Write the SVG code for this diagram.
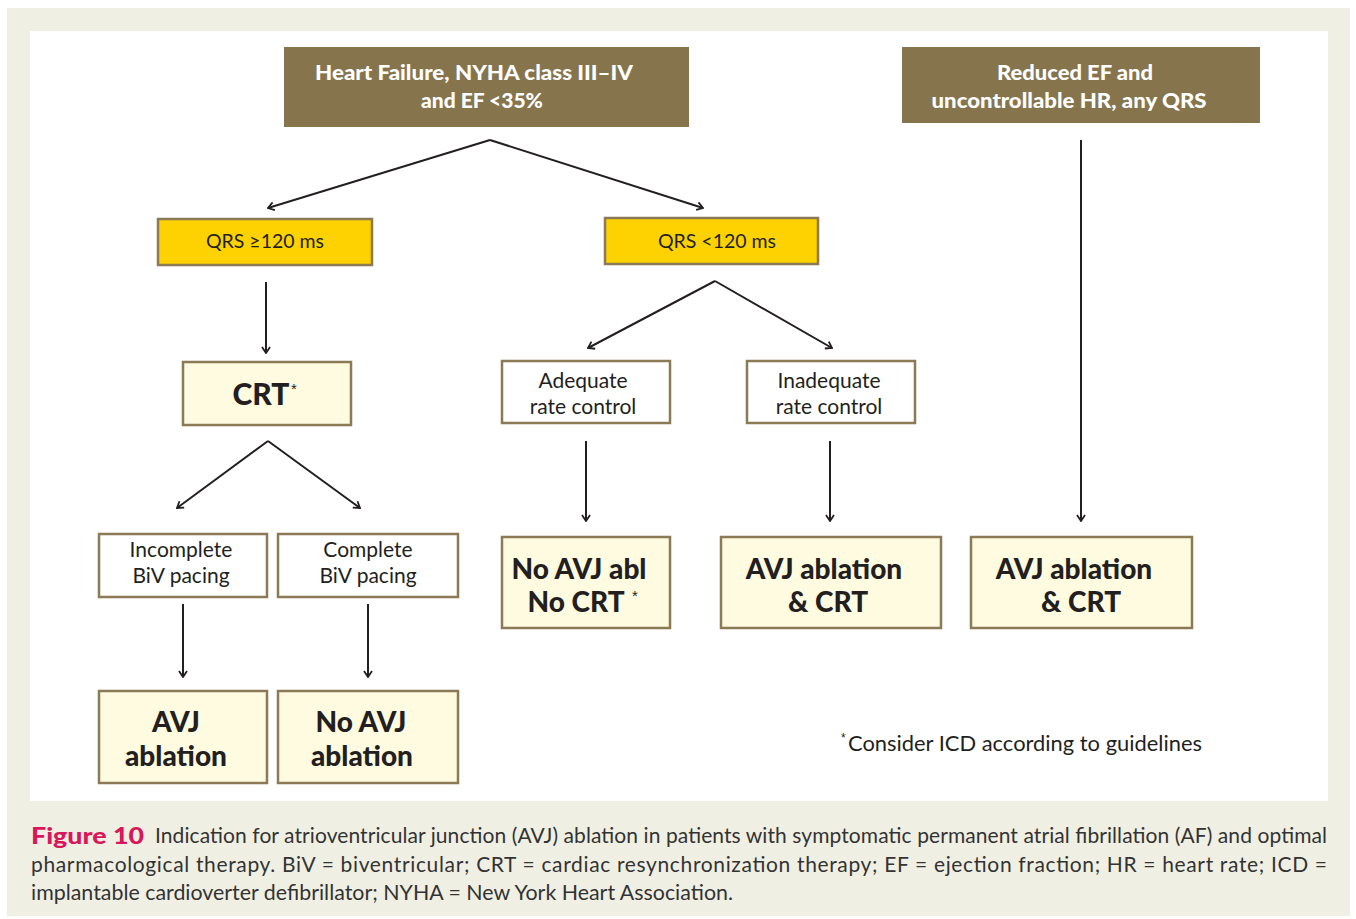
<svg xmlns="http://www.w3.org/2000/svg" width="1356" height="919" viewBox="0 0 1356 919">
<defs>
<style>
.t{font-family:Lato,"Liberation Sans",sans-serif;fill:#231f20;text-anchor:middle}
.hdr{fill:#86744d}
.ht{font-family:Lato,"Liberation Sans",sans-serif;fill:#ffffff;font-weight:900;font-size:21px;text-anchor:middle}
.gold{fill:#fdd200;stroke:#8b7a55;stroke-width:2.5}
.cream{fill:#fefbe0;stroke:#8b7a55;stroke-width:2.5}
.wht{fill:#ffffff;stroke:#8b7a55;stroke-width:2.5}
.b{font-weight:900}
.ast{font-family:"Liberation Sans",sans-serif;font-weight:normal;fill:#231f20}
.con line{stroke:#231f20;stroke-width:2;marker-end:url(#ah)}
.cap{font-family:Lato,"Liberation Sans",sans-serif;fill:#333333;font-size:21px}
</style>
<marker id="ah" viewBox="-7 -5 8 10" refX="0" refY="0" markerWidth="8" markerHeight="10" markerUnits="userSpaceOnUse" orient="auto">
<path d="M-6,-4 L0,0 L-6,4" fill="none" stroke="#231f20" stroke-width="1.8"/>
</marker>
</defs>
<rect x="0" y="0" width="1356" height="919" fill="#ffffff"/>
<rect x="7" y="8" width="1343" height="908" fill="#f0efe4"/>
<rect x="30" y="31" width="1298" height="770" fill="#ffffff"/>

<g id="n-hf">
<rect class="hdr" x="284" y="47" width="405" height="80"/>
<text class="ht" x="474" y="80" textLength="318" lengthAdjust="spacingAndGlyphs">Heart Failure, NYHA class III–IV</text>
<text class="ht" x="482" y="108">and EF &lt;35%</text>
</g>
<g id="n-ref">
<rect class="hdr" x="902" y="47" width="358" height="76"/>
<text class="ht" x="1075" y="80" textLength="156" lengthAdjust="spacingAndGlyphs">Reduced EF and</text>
<text class="ht" x="1069" y="108" textLength="275" lengthAdjust="spacingAndGlyphs">uncontrollable HR, any QRS</text>
</g>
<g id="n-qrs1">
<rect class="gold" x="158" y="219" width="214" height="46"/>
<text class="t" x="265" y="248" font-size="19.5">QRS ≥120 ms</text>
</g>
<g id="n-qrs2">
<rect class="gold" x="605" y="218" width="213" height="46"/>
<text class="t" x="717" y="248" font-size="19.5">QRS &lt;120 ms</text>
</g>
<g id="n-crt">
<rect class="cream" x="183" y="362" width="168" height="63"/>
<text class="t b" x="261" y="405" font-size="30">CRT</text>
<text class="ast" x="291" y="394" font-size="15">*</text>
</g>
<g id="n-adeq">
<rect class="wht" x="502" y="361" width="168" height="62"/>
<text class="t" x="583" y="388" font-size="21">Adequate</text>
<text class="t" x="583" y="414" font-size="21">rate control</text>
</g>
<g id="n-inadeq">
<rect class="wht" x="747" y="361" width="168" height="62"/>
<text class="t" x="829" y="388" font-size="21">Inadequate</text>
<text class="t" x="829" y="414" font-size="21">rate control</text>
</g>
<g id="n-incomplete">
<rect class="wht" x="99" y="534" width="168" height="63"/>
<text class="t" x="181" y="557" font-size="21">Incomplete</text>
<text class="t" x="181" y="583" font-size="21">BiV pacing</text>
</g>
<g id="n-complete">
<rect class="wht" x="278" y="534" width="180" height="63"/>
<text class="t" x="368" y="557" font-size="21">Complete</text>
<text class="t" x="368" y="583" font-size="21">BiV pacing</text>
</g>
<g id="n-noavj">
<rect class="cream" x="502" y="537" width="168" height="91"/>
<text class="t b" x="579" y="579" font-size="28">No AVJ abl</text>
<text class="t b" x="576" y="612" font-size="28">No CRT</text>
<text class="ast" x="632" y="601" font-size="15">*</text>
</g>
<g id="n-avjcrt1">
<rect class="cream" x="721" y="537" width="220" height="91"/>
<text class="t b" x="824" y="579" font-size="28">AVJ ablation</text>
<text class="t b" x="828" y="612" font-size="28">&amp; CRT</text>
</g>
<g id="n-avjcrt2">
<rect class="cream" x="971" y="537" width="221" height="91"/>
<text class="t b" x="1074" y="579" font-size="28">AVJ ablation</text>
<text class="t b" x="1081" y="612" font-size="28">&amp; CRT</text>
</g>
<g id="n-avjabl">
<rect class="cream" x="99" y="691" width="168" height="92"/>
<text class="t b" x="176" y="732" font-size="28">AVJ</text>
<text class="t b" x="176" y="766" font-size="28">ablation</text>
</g>
<g id="n-noavjabl">
<rect class="cream" x="278" y="691" width="180" height="92"/>
<text class="t b" x="361" y="732" font-size="28">No AVJ</text>
<text class="t b" x="362" y="766" font-size="28">ablation</text>
</g>

<g id="connectors" class="con">
<line x1="490" y1="140" x2="268" y2="208"/>
<line x1="490" y1="140" x2="703" y2="208"/>
<line x1="1081" y1="140" x2="1081" y2="521"/>
<line x1="266" y1="282" x2="266" y2="353"/>
<line x1="268" y1="441" x2="177" y2="508"/>
<line x1="268" y1="441" x2="360" y2="508"/>
<line x1="715" y1="281" x2="588" y2="348"/>
<line x1="715" y1="281" x2="832" y2="348"/>
<line x1="586" y1="441" x2="586" y2="521"/>
<line x1="830" y1="441" x2="830" y2="521"/>
<line x1="183" y1="604" x2="183" y2="677"/>
<line x1="368" y1="604" x2="368" y2="677"/>
</g>

<g id="footnote">
<text class="ast" x="841" y="742" font-size="12">*</text>
<text class="t" x="848" y="751" font-size="22" style="text-anchor:start" textLength="354" lengthAdjust="spacingAndGlyphs">Consider ICD according to guidelines</text>
</g>

<g id="caption">
<text class="cap" x="31" y="844" font-weight="900" style="fill:#d6175a;font-size:23px" textLength="113" lengthAdjust="spacingAndGlyphs">Figure 10</text>
<text class="cap" x="155" y="843" textLength="1172" lengthAdjust="spacing">Indication for atrioventricular junction (AVJ) ablation in patients with symptomatic permanent atrial fibrillation (AF) and optimal</text>
<text class="cap" x="31" y="872" textLength="1296" lengthAdjust="spacing">pharmacological therapy. BiV = biventricular; CRT = cardiac resynchronization therapy; EF = ejection fraction; HR = heart rate; ICD =</text>
<text class="cap" x="31" y="900" textLength="702" lengthAdjust="spacingAndGlyphs">implantable cardioverter defibrillator; NYHA = New York Heart Association.</text>
</g>
</svg>
